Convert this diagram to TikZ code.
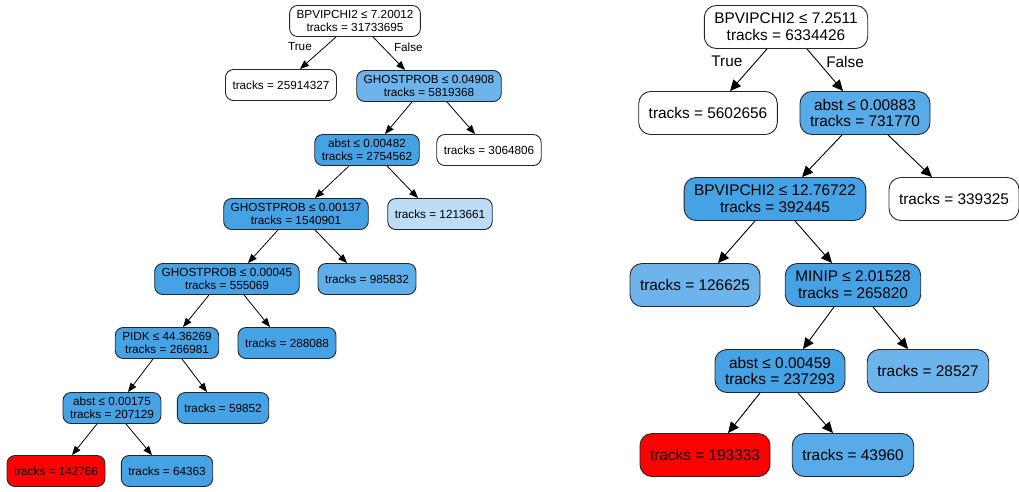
\documentclass[tikz,border=0pt]{standalone}
\usepackage{fontspec}
\setmainfont{Liberation Sans}
\usepackage{xcolor}
\usepackage{tikz}
\usetikzlibrary{arrows.meta}

\definecolor{leafred}{HTML}{FF0000}
\definecolor{paleblue}{HTML}{BDDCF6}
\definecolor{lightblue}{HTML}{6CB4EB}
\definecolor{midblue}{HTML}{57ABE8}
\definecolor{fullblue}{HTML}{45A2E5}

\begin{document}
\begin{tikzpicture}[x=1pt, y=-1pt,
  lbox/.style={rectangle, rounded corners=8pt, draw=black!85, line width=0.9pt, align=center,
    font=\fontsize{11.75}{13.3}\selectfont, inner xsep=7pt, inner ysep=4pt, minimum height=31pt},
  rbox/.style={rectangle, rounded corners=12pt, draw=black!85, line width=0.9pt, align=center,
    font=\fontsize{15.4}{16.8}\selectfont, inner xsep=10pt, inner ysep=5pt, minimum height=43pt},
  ledge/.style={-{Triangle[length=9pt,width=7pt]}, line width=0.8pt, font=\fontsize{11.75}{13.3}\selectfont},
  redge/.style={-{Triangle[length=11pt,width=10pt]}, line width=0.9pt, font=\fontsize{15.4}{16.8}\selectfont}]

\useasboundingbox (0,0) rectangle (1019,491);

% left tree
\node[lbox] (L0) at (355,21) {BPVIPCHI2 ≤ 7.20012\\tracks = 31733695};
\node[lbox] (L1) at (281,85) {tracks = 25914327};
\node[lbox, fill=lightblue] (L2) at (429,86) {GHOSTPROB ≤ 0.04908\\tracks = 5819368};
\node[lbox, fill=fullblue] (L3) at (367,150) {abst ≤ 0.00482\\tracks = 2754562};
\node[lbox] (L4) at (489,150) {tracks = 3064806};
\node[lbox, fill=fullblue] (L5) at (296,214) {GHOSTPROB ≤ 0.00137\\tracks = 1540901};
\node[lbox, fill=paleblue] (L6) at (440,214) {tracks = 1213661};
\node[lbox, fill=fullblue] (L7) at (227,279) {GHOSTPROB ≤ 0.00045\\tracks = 555069};
\node[lbox, fill=midblue!70!lightblue] (L8) at (367,279) {tracks = 985832};
\node[lbox, fill=fullblue] (L9) at (167,343) {PIDK ≤ 44.36269\\tracks = 266981};
\node[lbox, fill=fullblue] (L10) at (287,343) {tracks = 288088};
\node[lbox, fill=fullblue] (L11) at (112,408) {abst ≤ 0.00175\\tracks = 207129};
\node[lbox, fill=fullblue] (L12) at (223,408) {tracks = 59852};
\node[lbox, fill=leafred] (L13) at (56,471) {tracks = 142766};
\node[lbox, fill=fullblue] (L14) at (167,471) {tracks = 64363};

\draw[ledge] ([xshift=-19pt]L0.south) -- node[pos=0.3, left=13pt, inner sep=0] (LT) {True} ([xshift=19pt]L1.north);
\draw[ledge] ([xshift=18pt]L0.south) -- node[pos=0.3, right=11pt, inner sep=0] (LF) {False} ([xshift=-24pt]L2.north);
\draw[ledge] ([xshift=-17pt]L2.south) -- ([xshift=18pt]L3.north);
\draw[ledge] ([xshift=18pt]L2.south) -- ([xshift=-14pt]L4.north);
\draw[ledge] ([xshift=-18pt]L3.south) -- ([xshift=19pt]L5.north);
\draw[ledge] ([xshift=20pt]L3.south) -- ([xshift=-22pt]L6.north);
\draw[ledge] ([xshift=-18pt]L5.south) -- ([xshift=21pt]L7.north);
\draw[ledge] ([xshift=19pt]L5.south) -- ([xshift=-20pt]L8.north);
\draw[ledge] ([xshift=-18pt]L7.south) -- ([xshift=16pt]L9.north);
\draw[ledge] ([xshift=17pt]L7.south) -- ([xshift=-17pt]L10.north);
\draw[ledge] ([xshift=-14pt]L9.south) -- ([xshift=16pt]L11.north);
\draw[ledge] ([xshift=15pt]L9.south) -- ([xshift=-16pt]L12.north);
\draw[ledge] ([xshift=-15pt]L11.south) -- ([xshift=16pt]L13.north);
\draw[ledge] ([xshift=14pt]L11.south) -- ([xshift=-15pt]L14.north);

% right tree
\node[rbox] (R0) at (786,27) {BPVIPCHI2 ≤ 7.2511\\tracks = 6334426};
\node[rbox] (R1) at (708,113) {tracks = 5602656};
\node[rbox, fill=midblue] (R2) at (865,113) {abst ≤ 0.00883\\tracks = 731770};
\node[rbox, fill=fullblue] (R3) at (775,199) {BPVIPCHI2 ≤ 12.76722\\tracks = 392445};
\node[rbox] (R4) at (954,199) {tracks = 339325};
\node[rbox, fill=lightblue] (R5) at (695,285) {tracks = 126625};
\node[rbox, fill=fullblue] (R6) at (853,285) {MINIP ≤ 2.01528\\tracks = 265820};
\node[rbox, fill=fullblue] (R7) at (780,371) {abst ≤ 0.00459\\tracks = 237293};
\node[rbox, fill=lightblue] (R8) at (928,371) {tracks = 28527};
\node[rbox, fill=leafred] (R9) at (705,455) {tracks = 193333};
\node[rbox, fill=midblue] (R10) at (853,455) {tracks = 43960};

\draw[redge] ([xshift=-19pt]R0.south) -- node[pos=0.3, left=13pt, inner sep=0] (RT) {True} ([xshift=22pt]R1.north);
\draw[redge] ([xshift=21pt]R0.south) -- node[pos=0.3, right=8pt, inner sep=0] (RF) {False} ([xshift=-22pt]R2.north);
\draw[redge] ([xshift=-23pt]R2.south) -- ([xshift=27pt]R3.north);
\draw[redge] ([xshift=23pt]R2.south) -- ([xshift=-22pt]R4.north);
\draw[redge] ([xshift=-20pt]R3.south) -- ([xshift=23pt]R5.north);
\draw[redge] ([xshift=20pt]R3.south) -- ([xshift=-21pt]R6.north);
\draw[redge] ([xshift=-19pt]R6.south) -- ([xshift=23pt]R7.north);
\draw[redge] ([xshift=20pt]R6.south) -- ([xshift=-20pt]R8.north);
\draw[redge] ([xshift=-20pt]R7.south) -- ([xshift=23pt]R9.north);
\draw[redge] ([xshift=18pt]R7.south) -- ([xshift=-20pt]R10.north);

\end{tikzpicture}
\end{document}
